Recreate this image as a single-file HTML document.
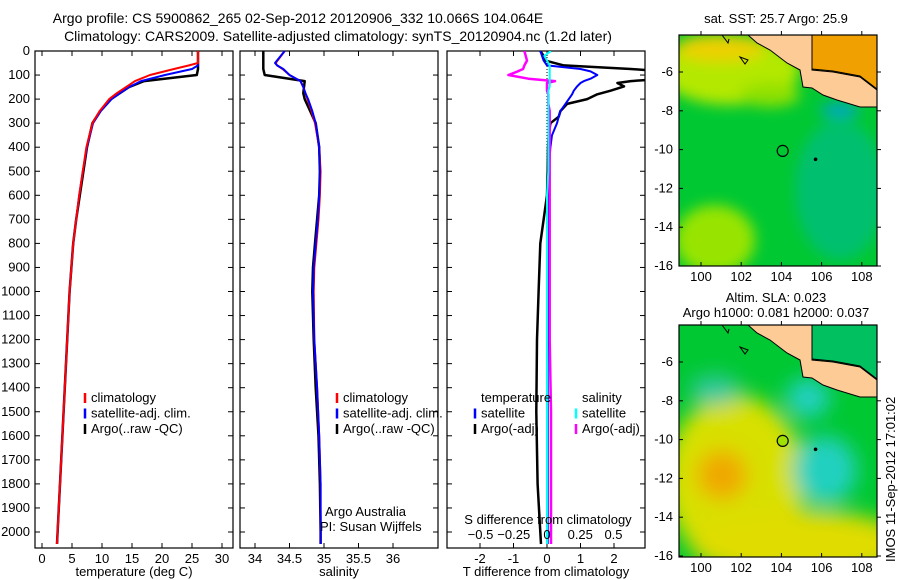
<!DOCTYPE html>
<html><head><meta charset="utf-8">
<style>
html,body{margin:0;padding:0;background:#fff;}
svg{display:block;font-family:"Liberation Sans",sans-serif;font-size:13px;}
</style></head>
<body>
<svg id="fig" width="900" height="580" viewBox="0 0 900 580">
<text x="298" y="23" text-anchor="middle" style="font-size:14px">Argo profile: CS 5900862_265 02-Sep-2012 20120906_332 10.066S 104.064E</text>
<text x="338" y="41" text-anchor="middle" style="font-size:14px">Climatology: CARS2009. Satellite-adjusted climatology: synTS_20120904.nc (1.2d later)</text>
<g id="p1"></g>
<g id="p2"></g>
<g id="p3"></g>
<g id="m1"></g>
<g id="m2"></g>
<text x="776" y="23" text-anchor="middle">sat. SST: 25.7 Argo: 25.9</text>
<text x="776" y="302" text-anchor="middle">Altim. SLA: 0.023</text>
<text x="776" y="317" text-anchor="middle">Argo h1000: 0.081 h2000: 0.037</text>
<text transform="translate(895,562) rotate(-90)">IMOS 11-Sep-2012 17:01:02</text>
</svg>
<script>
// ---- data ----
const depths = [0,50,60,75,100,125,150,175,200,250,300,400,500,600,700,800,900,1000,1200,1400,1600,1800,2000,2050];
const tempClim = [26,26,24.5,22,18,15.5,14,12.5,11.2,9.6,8.4,7.4,6.8,6.2,5.7,5.2,4.9,4.6,4.2,3.8,3.4,3.0,2.6,2.5];
const tempSat  = [26,26,26,25,20.5,16.5,14.5,13,11.6,9.8,8.5,7.5,6.8,6.2,5.7,5.2,4.9,4.6,4.2,3.8,3.4,3.0,2.6,2.5];
const tempArgo = [26,26,26,26,25.8,17,14.5,13,11.5,9.7,8.4,7.5,6.9,6.3,5.7,5.2,4.9,4.6,4.2,3.8,3.4,3.0,2.6,2.5];
const salClim = [34.43,34.3,34.32,34.4,34.5,34.66,34.7,34.73,34.76,34.82,34.87,34.93,34.95,34.94,34.92,34.89,34.86,34.85,34.86,34.9,34.93,34.95,34.95,34.95];
const salSat  = [34.43,34.29,34.32,34.41,34.5,34.66,34.7,34.73,34.77,34.83,34.88,34.93,34.94,34.93,34.91,34.88,34.85,34.84,34.86,34.9,34.93,34.95,34.95,34.95];
const salArgo = [34.12,34.12,34.12,34.12,34.14,34.72,34.71,34.7,34.72,34.8,34.88,34.93,34.94,34.93,34.9,34.87,34.84,34.83,34.85,34.88,34.92,34.94,34.95,34.95];
const dDepths = [0,20,40,60,75,85,100,115,125,133,147,165,180,200,220,250,273,300,350,400,500,600,800,1000,1200,1500,1800,2000,2050];
const tDiffSat  = [-0.2,-0.15,-0.1,0,1.0,1.3,1.5,1.3,1.1,1.0,0.9,0.8,0.75,0.65,0.55,0.4,0.35,0.3,0.15,0.1,0.05,0.05,0.02,0.02,0.02,0.02,0.02,0.02,0.02];
const tDiffArgo = [-0.2,-0.1,-0.05,0.5,2.5,3.5,3.5,3.5,2.5,2.1,2.3,1.9,1.5,1.2,0.6,0.4,0.35,0.1,0.05,0.03,0.02,0,-0.2,-0.25,-0.3,-0.32,-0.28,-0.2,-0.18];
const sDiffSat  = [0.03,-0.02,0,0.02,0.02,0.02,0.02,0.02,0.02,0.02,0.02,0.01,0.01,0.01,0.01,0.01,0.01,0.01,0.01,0.01,0.01,0.0,0.0,0.0,0.0,0.0,0.0,0.0,0.0];
const sDiffArgo = [-0.17,-0.16,-0.15,-0.17,-0.18,-0.22,-0.29,-0.14,0.06,0.0,0.0,0.0,0.01,0.01,0.01,0.02,0.02,0.02,0.02,0.02,0.02,0.02,0.02,0.02,0.02,0.03,0.03,0.03,0.03];
const depthTicks = [0,100,200,300,400,500,600,700,800,900,1000,1100,1200,1300,1400,1500,1600,1700,1800,1900,2000];
const tempTicks = [0,5,10,15,20,25,30];
const salTicks = [34,34.5,35,35.5,36];
const tDiffTicks = [-2,-1,0,1,2];
const sDiffTicks = [-0.5,-0.25,0,0.25,0.5];
const lonTicks = [100,102,104,106,108];
const latTicks = [-6,-8,-10,-12,-14,-16];

const NS="http://www.w3.org/2000/svg";
function mk(parent,tag,attrs,text){const e=document.createElementNS(NS,tag);for(const k in attrs)e.setAttribute(k,attrs[k]);if(text!==undefined)e.textContent=text;parent.appendChild(e);return e;}
const Y0=51, PY=24.05;
const yD = d => Y0 + d*PY/100;
const PT=51, PB=548;

function panel(g,x0,x1,xs,xticks,xlabel,showY,xtickFmt){
  mk(g,'rect',{x:x0,y:PT,width:x1-x0,height:PB-PT,fill:'none',stroke:'#000','stroke-width':1.2});
  depthTicks.forEach(d=>{const y=yD(d);
    const t=mk(g,'line',{x1:x0,x2:x0+5,y1:y,y2:y,stroke:'#000'});
    
    mk(g,'line',{x1:x1,x2:x1-5,y1:y,y2:y,stroke:'#000'});
    if(showY){const l=mk(g,'text',{x:x0-5,y:y+4,'text-anchor':'end'},String(d));
      }
  });
  xticks.forEach(v=>{const x=xs(v);
    mk(g,'line',{x1:x,x2:x,y1:PB,y2:PB-5,stroke:'#000'});
    mk(g,'line',{x1:x,x2:x,y1:PT,y2:PT+5,stroke:'#000'});
    const l=mk(g,'text',{x:x,y:PB+15,'text-anchor':'middle'},xtickFmt?xtickFmt(v):String(v));
    
  });
  const xl=mk(g,'text',{x:(x0+x1)/2,y:PB+28,'text-anchor':'middle'},xlabel);
  
}
function line(g,xs,vals,ds,color,w,name,clip){
  const pts=vals.map((v,i)=>xs(v).toFixed(1)+','+yD(ds[i]).toFixed(1)).join(' ');
  const p=mk(g,'polyline',{points:pts,fill:'none',stroke:color,'stroke-width':w,'stroke-linejoin':'round'});
  if(clip)p.setAttribute('clip-path',clip);
  
}
function legend(g,x,y,items){
  items.forEach((it,i)=>{const yy=y+i*15.5;
    mk(g,'line',{x1:x-6,x2:x-6,y1:yy-9,y2:yy+1,stroke:it[1],'stroke-width':2.5});
    const t=mk(g,'text',{x:x,y:yy},it[0]);
    
  });
}
const defs=mk(document.getElementById('fig'),'defs',{});
const cp=mk(defs,'clipPath',{id:'c3'});mk(cp,'rect',{x:447,y:PT,width:198,height:PB-PT});

// Panel 1
const p1=document.getElementById('p1');
const xT=v=>42+6*v;
panel(p1,35,233,xT,tempTicks,'temperature (deg C)',true);
line(p1,xT,tempArgo,depths,'#000',2.5,'argo-temperature-line');
line(p1,xT,tempSat,depths,'#0000ff',2,'satellite-temperature-line');
line(p1,xT,tempClim,depths,'#ff0000',2,'climatology-temperature-line');
legend(p1,91,402,[['climatology','#ff0000'],['satellite-adj. clim.','#0000ff'],['Argo(..raw -QC)','#000']]);

// Panel 2
const p2=document.getElementById('p2');
const xS=v=>255+69*(v-34);
panel(p2,240,438,xS,salTicks,'salinity',false);
line(p2,xS,salArgo,depths,'#000',2.5,'argo-salinity-line');
line(p2,xS,salClim,depths,'#ff0000',2,'climatology-salinity-line');
line(p2,xS,salSat,depths,'#0000ff',2,'satellite-salinity-line');
legend(p2,343,402,[['climatology','#ff0000'],['satellite-adj. clim.','#0000ff'],['Argo(..raw -QC)','#000']]);
mk(p2,'text',{x:325,y:516,},'Argo Australia');
mk(p2,'text',{x:320,y:531,},'PI: Susan Wijffels');

// Panel 3
const p3=document.getElementById('p3');
const xTD=v=>547+33.5*v;
const xSD=v=>547+133*v;
panel(p3,447,645,xTD,tDiffTicks,'T difference from climatology',false);
mk(p3,'line',{x1:547,x2:547,y1:PT,y2:PB,stroke:'#000','stroke-dasharray':'1,2',});
line(p3,xTD,tDiffArgo,dDepths,'#000',2.5,'argo-temperature-difference-line','url(#c3)');
line(p3,xTD,tDiffSat,dDepths,'#0000ff',2,'satellite-temperature-difference-line','url(#c3)');
line(p3,xSD,sDiffArgo,dDepths,'#ff00ff',2.5,'argo-salinity-difference-line','url(#c3)');
line(p3,xSD,sDiffSat,dDepths,'#00ffff',2,'satellite-salinity-difference-line','url(#c3)');
legend(p3,481,402,[['temperature','none'],['satellite','#0000ff'],['Argo(-adj)','#000']]);
legend(p3,582,402,[['salinity','none'],['satellite','#00ffff'],['Argo(-adj)','#ff00ff']]);
mk(p3,'text',{x:548,y:524,'text-anchor':'middle',},'S difference from climatology');
sDiffTicks.forEach(v=>{const t=mk(p3,'text',{x:xSD(v),y:539,'text-anchor':'middle'},String(v).replace('-','\u2212'));
  });

// Maps
const MX0=679,MX1=877;
function map(g,top,sla){
  const lonX=v=>701+(v-100)*20.1;
  const latY=v=>top+37+(-6-v)*19.4;
  const H=(top===35?266:557)-top;
  const cid='mc'+top;const c=mk(defs,'clipPath',{id:cid});mk(c,'rect',{x:MX0,y:top,width:MX1-MX0,height:H});
  const b=mk(g,'g',{'clip-path':'url(#'+cid+')'});
  const o=top-35;
  const blur='f'+top;const f=mk(defs,'filter',{id:blur,x:'-50%',y:'-50%',width:'200%',height:'200%'});mk(f,'feGaussianBlur',{stdDeviation:sla?10:7});
  if(!sla){
    mk(b,'rect',{x:MX0,y:top,width:200,height:H,fill:'#00c832'});
    const bl=mk(b,'g',{filter:'url(#'+blur+')'});
    mk(bl,'ellipse',{cx:730,cy:70,rx:70,ry:35,fill:'#b4e800'});
    mk(bl,'ellipse',{cx:720,cy:48,rx:45,ry:14,fill:'#ecd000'});
    mk(bl,'ellipse',{cx:770,cy:95,rx:30,ry:12,fill:'#90e000'});
    mk(bl,'ellipse',{cx:715,cy:240,rx:40,ry:35,fill:'#98e400'});
    mk(bl,'ellipse',{cx:840,cy:190,rx:45,ry:70,fill:'#00c070'});
    mk(bl,'rect',{x:812,y:25,width:80,height:55,fill:'#f0a000'});
    mk(bl,'ellipse',{cx:840,cy:110,rx:20,ry:6,fill:'#00a0e0'});
  } else {
    mk(b,'rect',{x:MX0,y:top,width:200,height:H,fill:'#00c832'});
    const bl=mk(b,'g',{filter:'url(#'+blur+')'});
    mk(bl,'ellipse',{cx:735,cy:480,rx:70,ry:85,fill:'#d8e000'});
    mk(bl,'ellipse',{cx:800,cy:545,rx:110,ry:35,fill:'#e0dc00'});
    mk(bl,'ellipse',{cx:722,cy:475,rx:25,ry:25,fill:'#f0a800'});
    mk(bl,'ellipse',{cx:825,cy:470,rx:32,ry:34,fill:'#20d0c0'});
    mk(bl,'ellipse',{cx:808,cy:398,rx:22,ry:20,fill:'#20d0c0'});
    mk(bl,'ellipse',{cx:715,cy:390,rx:25,ry:15,fill:'#30c8a0'});
  }
  const land=[[748,35],[812,35],[812,70],[833,72],[860,77],[877,90],[877,107],[860,107],[837,100],[823,95],[812,88],[803,87],[800,70],[787,63],[770,50],[757,43]];
  const lp=mk(b,'polygon',{points:land.map(p=>p[0]+','+(p[1]+o)).join(' '),fill:'#fccb96',stroke:'#000','stroke-width':1});
  
  mk(b,'polygon',{points:'812,'+(34+o)+' 877,'+(34+o)+' 877,'+(89+o)+' 860,'+(76+o)+' 833,'+(71+o)+' 812,'+(69+o),fill:sla?'#00c060':'#f0a000',stroke:'#000'});
  mk(b,'path',{d:`M740 ${57+o} l8 3 l-3 4 z`,fill:'none',stroke:'#000'});
  mk(b,'path',{d:`M722 ${35+o} l6 8 l1 -4`,fill:'none',stroke:'#000'});
  const mk1=mk(b,'circle',{cx:lonX(104.064),cy:latY(-10.066),r:5.5,fill:sla?'#a0e000':'none',stroke:'#000','stroke-width':1.2});
  
  mk(b,'circle',{cx:lonX(105.7),cy:latY(-10.5),r:1.8,fill:'#000'});
  mk(g,'rect',{x:MX0,y:top,width:MX1-MX0,height:H,fill:'none',stroke:'#000','stroke-width':1.2});
  lonTicks.forEach(v=>{const x=lonX(v);
    mk(g,'line',{x1:x,x2:x,y1:top+H,y2:top+H-4,stroke:'#000'});
    mk(g,'line',{x1:x,x2:x,y1:top,y2:top-4,stroke:'#000'});
    const t=mk(g,'text',{x:x,y:top+H+15,'text-anchor':'middle'},String(v));
    });
  latTicks.forEach(v=>{const y=latY(v);
    mk(g,'line',{x1:MX0,x2:MX0+4,y1:y,y2:y,stroke:'#000'});
    mk(g,'line',{x1:MX1,x2:MX1+4,y1:y,y2:y,stroke:'#000'});
    const t=mk(g,'text',{x:MX0-6,y:y+4,'text-anchor':'end'},String(v));
    });
}
map(document.getElementById('m1'),35,false);
map(document.getElementById('m2'),325,true);
</script>
</body></html>
